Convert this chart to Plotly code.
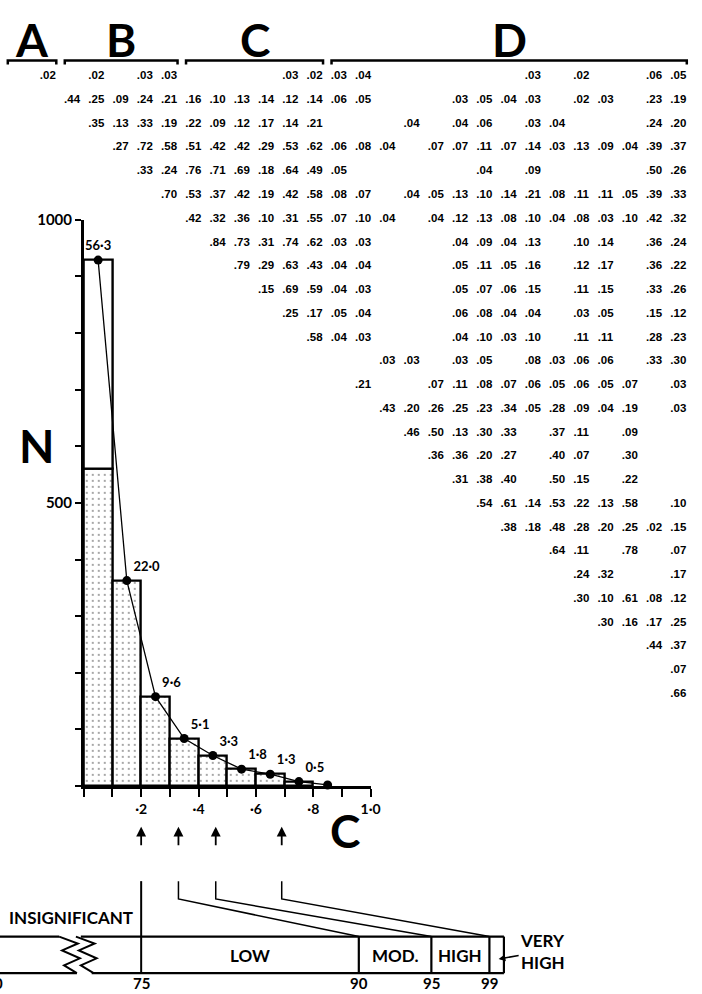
import plotly.graph_objects as go

W, H = 702, 994
_ = None

# ---------------- data ----------------
group_names = ["A", "B", "C", "D"]
group_first_col = [0, 1, 6, 12]
group_last_col = [0, 5, 11, 26]

# triangular table: row r starts at column r-1 (None = blank)
row_01 = [.02, _, .02, _, .03, .03, _, _, _, _, .03, .02, .03, .04, _, _, _, _, _, _, .03, _, .02, _, _, .06, .05]
row_02 = [.44, .25, .09, .24, .21, .16, .10, .13, .14, .12, .14, .06, .05, _, _, _, .03, .05, .04, .03, _, .02, .03, _, .23, .19]
row_03 = [.35, .13, .33, .19, .22, .09, .12, .17, .14, .21, _, _, _, .04, _, .04, .06, _, .03, .04, _, _, _, .24, .20]
row_04 = [.27, .72, .58, .51, .42, .42, .29, .53, .62, .06, .08, .04, _, .07, .07, .11, .07, .14, .03, .13, .09, .04, .39, .37]
row_05 = [.33, .24, .76, .71, .69, .18, .64, .49, .05, _, _, _, _, _, .04, _, .09, _, _, _, _, .50, .26]
row_06 = [.70, .53, .37, .42, .19, .42, .58, .08, .07, _, .04, .05, .13, .10, .14, .21, .08, .11, .11, .05, .39, .33]
row_07 = [.42, .32, .36, .10, .31, .55, .07, .10, .04, _, .04, .12, .13, .08, .10, .04, .08, .03, .10, .42, .32]
row_08 = [.84, .73, .31, .74, .62, .03, .03, _, _, _, .04, .09, .04, .13, _, .10, .14, _, .36, .24]
row_09 = [.79, .29, .63, .43, .04, .04, _, _, _, .05, .11, .05, .16, _, .12, .17, _, .36, .22]
row_10 = [.15, .69, .59, .04, .03, _, _, _, .05, .07, .06, .15, _, .11, .15, _, .33, .26]
row_11 = [.25, .17, .05, .04, _, _, _, .06, .08, .04, .04, _, .03, .05, _, .15, .12]
row_12 = [.58, .04, .03, _, _, _, .04, .10, .03, .10, _, .11, .11, _, .28, .23]
row_13 = [_, _, .03, .03, _, .03, .05, _, .08, .03, .06, .06, _, .33, .30]
row_14 = [.21, _, _, .07, .11, .08, .07, .06, .05, .06, .05, .07, _, .03]
row_15 = [.43, .20, .26, .25, .23, .34, .05, .28, .09, .04, .19, _, .03]
row_16 = [.46, .50, .13, .30, .33, _, .37, .11, _, .09, _, _]
row_17 = [.36, .36, .20, .27, _, .40, .07, _, .30, _, _]
row_18 = [.31, .38, .40, _, .50, .15, _, .22, _, _]
row_19 = [.54, .61, .14, .53, .22, .13, .58, _, .10]
row_20 = [.38, .18, .48, .28, .20, .25, .02, .15]
row_21 = [_, .64, .11, _, .78, _, .07]
row_22 = [_, .24, .32, _, _, .17]
row_23 = [.30, .10, .61, .08, .12]
row_24 = [.30, .16, .17, .25]
row_25 = [_, .44, .37]
row_26 = [_, .07]
row_27 = [.66]
matrix_rows = [row_01, row_02, row_03, row_04, row_05, row_06, row_07, row_08, row_09,
               row_10, row_11, row_12, row_13, row_14, row_15, row_16, row_17, row_18,
               row_19, row_20, row_21, row_22, row_23, row_24, row_25, row_26, row_27]

# histogram of C
c_bin_centers = [0.05, 0.15, 0.25, 0.35, 0.45, 0.55, 0.65, 0.75]
n_counts = [929, 363, 158, 84, 54, 30, 21, 8]
n_stippled = [560, 363, 158, 84, 54, 30, 21, 8]
curve_c = [0.05, 0.15, 0.25, 0.35, 0.45, 0.55, 0.65, 0.75, 0.85]
curve_n = [929, 363, 158, 84, 54, 30, 21, 8, 2]
curve_pct_labels = ["56·3", "22·0", "9·6", "5·1", "3·3", "1·8", "1·3", "0·5", ""]
c_tick_vals = [0.2, 0.4, 0.6, 0.8, 1.0]
c_tick_text = ["·2", "·4", "·6", "·8", "1·0"]
n_tick_vals = [500, 1000]
n_tick_text = ["500", "1000"]

# C thresholds -> percentile classes
c_thresholds = [0.20, 0.33, 0.46, 0.69]
pct_thresholds = [75, 90, 95, 99]
pct_max = 100
pct_class_names = ["LOW", "MOD.", "HIGH"]
pct_very_high = "VERY<br>HIGH"
insignificant_label = "INSIGNIFICANT"
pct_left_label = "0"

# ---------------- geometry / style ----------------
FONT = "Lato"
MFONT = "Liberation Sans"
COL0, COLW = 48.5, 24.6
ROW0, ROWH = 67.0, 24.0
HX0, HX1 = 85.0, 376.0
HY0, HY1 = 784.0, 212.0
N_TOP = 1000
BAND_TOP, BAND_BOT = 936.0, 973.0
PSCALE = 14.72
LINK_TOP, LINK_KNEE = 880.0, 898.0


def fx(px):
    return px / W


def fy(py):
    return 1 - py / H


def c_px(c):
    return HX0 + c * (HX1 - HX0)


P0_PX = c_px(c_thresholds[0])


def p_px(p):
    return P0_PX + PSCALE * (p - pct_thresholds[0])


def ppath(points):
    return "M " + " L ".join(f"{fx(x):.5f},{fy(y):.5f}" for x, y in points)


def row_of(py):
    return 1 + (py - ROW0) / ROWH


def bold(size, family=FONT):
    return dict(family=family, size=size, color="black", weight="bold")


def label(xpx, ypx, text, size, xanchor="center", yanchor="middle"):
    return dict(x=fx(xpx), y=fy(ypx), xref="paper", yref="paper", text=text,
                showarrow=False, font=bold(size), xanchor=xanchor, yanchor=yanchor)


fig = go.Figure()

# stippled bars
fig.add_trace(go.Bar(
    x=c_bin_centers, y=n_stippled, width=0.1,
    marker=dict(color="white",
                pattern=dict(shape=".", fgcolor="black", bgcolor="white", size=6, solidity=0.07),
                line=dict(color="black", width=2.4)),
    xaxis="x", yaxis="y", hoverinfo="skip"))
# white (unstippled) upper parts
top_x = [c for c, n, s in zip(c_bin_centers, n_counts, n_stippled) if n > s]
top_h = [n - s for n, s in zip(n_counts, n_stippled) if n > s]
top_b = [s for n, s in zip(n_counts, n_stippled) if n > s]
fig.add_trace(go.Bar(
    x=top_x, y=top_h, base=top_b, width=0.1,
    marker=dict(color="white", line=dict(color="black", width=2.4)),
    xaxis="x", yaxis="y", hoverinfo="skip"))
# curve with percentages
fig.add_trace(go.Scatter(
    x=curve_c, y=curve_n, mode="lines+markers+text", text=curve_pct_labels,
    textposition=["top center"] + ["top right"] * (len(curve_c) - 1),
    textfont=bold(13), line=dict(color="black", width=1.3),
    marker=dict(color="black", size=9), cliponaxis=False,
    xaxis="x", yaxis="y", hoverinfo="skip"))

# table numbers
mx, my, mt = [], [], []
for i, row in enumerate(matrix_rows):
    for j, v in enumerate(row):
        if v is not None:
            mx.append(i + j)
            my.append(i + 1)
            mt.append(f"{v:.2f}"[1:])
fig.add_trace(go.Scatter(
    x=mx, y=my, text=mt, mode="text", textfont=bold(11.5, MFONT),
    cliponaxis=False, xaxis="x2", yaxis="y2", hoverinfo="skip"))

fig.update_layout(
    width=W, height=H, margin=dict(l=0, r=0, t=0, b=0, pad=0),
    paper_bgcolor="white", plot_bgcolor="rgba(0,0,0,0)",
    barmode="overlay", bargap=0, showlegend=False,
    xaxis=dict(domain=[fx(HX0), fx(HX1)], range=[0, 1], anchor="y",
               showgrid=False, zeroline=False, showline=True, linecolor="black", linewidth=2.5,
               ticks="outside", ticklen=8, tickwidth=2, tickcolor="black",
               tickvals=c_tick_vals, ticktext=c_tick_text, tickfont=bold(14),
               minor=dict(dtick=0.1, tick0=0, ticks="outside", ticklen=8, tickwidth=2,
                          tickcolor="black", showgrid=False)),
    yaxis=dict(domain=[fy(HY0), fy(HY1)], range=[0, N_TOP], anchor="x",
               showgrid=False, zeroline=False, showline=True, linecolor="black", linewidth=2.5,
               ticks="outside", ticklen=6, tickwidth=2, tickcolor="black",
               tickvals=n_tick_vals, ticktext=n_tick_text, tickfont=bold(15),
               minor=dict(dtick=100, tick0=0, ticks="outside", ticklen=6, tickwidth=2,
                          tickcolor="black", showgrid=False)),
    xaxis2=dict(domain=[0, 1], range=[-COL0 / COLW, (W - COL0) / COLW], anchor="y2",
                visible=False, fixedrange=True),
    yaxis2=dict(domain=[0, 1], range=[row_of(H), row_of(0)], anchor="x2",
                visible=False, fixedrange=True),
)

shapes = []
annotations = []

# group headers
head_y = row_of(30)
line_y = row_of(51)
tick_y = row_of(55)
for name, a, b in zip(group_names, group_first_col, group_last_col):
    left = a - (1.65 if a == b else 0.3)
    right = b + 0.35
    shapes.append(dict(type="path", xref="x2", yref="y2",
                       path=f"M {left},{tick_y} L {left},{line_y} L {right},{line_y} L {right},{tick_y}",
                       line=dict(color="black", width=2.5)))
    annotations.append(dict(x=(left + right) / 2, y=head_y, xref="x2", yref="y2", text=name,
                            showarrow=False, font=bold(46), xanchor="center", yanchor="middle"))

# axis letters
annotations.append(label(37, 440, "N", 46))
annotations.append(label(350, 829, "C", 46))

# arrows under thresholds
for c in c_thresholds:
    annotations.append(dict(x=c, y=fy(825), xref="x", yref="paper", text="", showarrow=True,
                            ax=0, ay=20, arrowhead=2, arrowsize=1.1, arrowwidth=1.8,
                            arrowcolor="black"))

# links from thresholds to percentile boundaries
shapes.append(dict(type="path", xref="paper", yref="paper",
                   path=ppath([(c_px(c_thresholds[0]), LINK_TOP), (p_px(pct_thresholds[0]), BAND_BOT)]),
                   line=dict(color="black", width=2)))
for c, p in zip(c_thresholds[1:], pct_thresholds[1:]):
    shapes.append(dict(type="path", xref="paper", yref="paper",
                       path=ppath([(c_px(c), LINK_TOP), (c_px(c), LINK_KNEE), (p_px(p), BAND_TOP)]),
                       line=dict(color="black", width=1.5)))

# percentile band
right_end = p_px(pct_max)
band_line = dict(color="black", width=2.2)
shapes.append(dict(type="path", xref="paper", yref="paper",
                   path=ppath([(-5, BAND_TOP), (60, BAND_TOP)]), line=band_line))
shapes.append(dict(type="path", xref="paper", yref="paper",
                   path=ppath([(82, BAND_TOP), (right_end, BAND_TOP)]), line=band_line))
shapes.append(dict(type="path", xref="paper", yref="paper",
                   path=ppath([(-5, BAND_BOT), (78, BAND_BOT)]), line=band_line))
shapes.append(dict(type="path", xref="paper", yref="paper",
                   path=ppath([(93, BAND_BOT), (right_end, BAND_BOT)]), line=band_line))
zig_dx = [0, 19, 3, 21, 5, 18]
zig_dy = [0, 7, 14, 22, 29, 37]
for x0 in (60, 77):
    pts = [(x0 + dx, BAND_TOP + dy) for dx, dy in zip(zig_dx, zig_dy)]
    shapes.append(dict(type="path", xref="paper", yref="paper", path=ppath(pts),
                       line=dict(color="black", width=2)))
for p in pct_thresholds[1:] + [pct_max]:
    shapes.append(dict(type="path", xref="paper", yref="paper",
                       path=ppath([(p_px(p), BAND_TOP), (p_px(p), BAND_BOT)]), line=band_line))

annotations.append(label(72, 917, insignificant_label, 17))
for name, a, b in zip(pct_class_names, pct_thresholds[:-1], pct_thresholds[1:]):
    annotations.append(label((p_px(a) + p_px(b)) / 2, 955, name, 17))
annotations.append(dict(x=fx(p_px((pct_thresholds[-1] + pct_max) / 2)), y=fy(959),
                        xref="paper", yref="paper", text=pct_very_high, showarrow=True,
                        ax=46, ay=-8, arrowhead=2, arrowsize=0.9, arrowwidth=1.5,
                        arrowcolor="black", font=bold(17), align="left", standoff=2,
                        xanchor="center", yanchor="middle"))
for p in pct_thresholds:
    annotations.append(label(p_px(p), 994, str(p), 15, yanchor="bottom"))
annotations.append(label(-2, 994, pct_left_label, 15, yanchor="bottom"))

fig.update_layout(shapes=shapes, annotations=annotations)
fig.write_html("out.html", config={"displayModeBar": False},
               post_script="document.body.style.margin='0';document.body.style.overflow='hidden';")
